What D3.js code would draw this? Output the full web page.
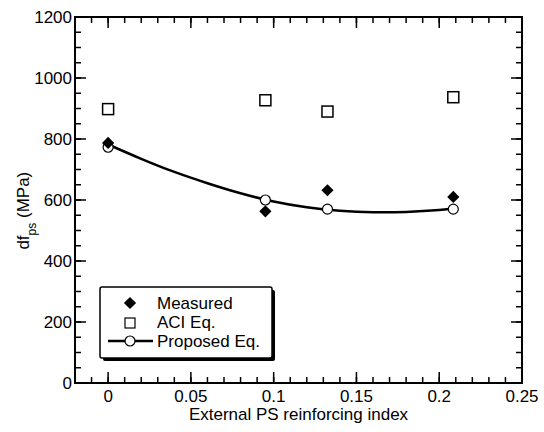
<!DOCTYPE html>
<html>
<head>
<meta charset="utf-8">
<script src="https://cdn.jsdelivr.net/npm/d3@7"></script>
<style>
  body { margin: 0; background: #fff; }
  text { font-family: "Liberation Sans", Arial, sans-serif; fill: #000; }
</style>
</head>
<body>
<div id="chart"></div>
<script>
// data
const xIndex = [0, 0.095, 0.1325, 0.2085];
const measured = [787, 563, 632, 610];
const aciEq = [898, 927, 890, 937];
const proposed = [773, 600, 570, 570];
// fitted curve, read at regular steps
const curveX = [0, 0.02, 0.04, 0.06, 0.08, 0.1, 0.12, 0.14, 0.16, 0.18, 0.2, 0.2085];
const curveY = [782, 735, 692, 655, 622, 595, 576, 565, 560, 561, 567, 572];
const xTicks = [0, 0.05, 0.1, 0.15, 0.2, 0.25];
const yTicks = [0, 200, 400, 600, 800, 1000, 1200];

const margin = {top: 17, right: 22, bottom: 49, left: 75},
    width = 544 - margin.left - margin.right,
    height = 432 - margin.top - margin.bottom;

const svg = d3.select("#chart")
    .append("svg")
    .attr("width", 544)
    .attr("height", 432)
    .append("g")
    .attr("transform", `translate(${margin.left}, ${margin.top})`);

const x = d3.scaleLinear().domain([-0.02, 0.25]).range([0, width]);
const y = d3.scaleLinear().domain([0, 1200]).range([height, 0]);

// minor ticks
const xMinor = d3.range(-0.01, 0.2501, 0.01).map(d => +d.toFixed(3));
const yMinor = d3.range(0, 1201, 50);

function tickLines(sel, vals, scale, len, orient) {
    sel.selectAll("line").data(vals).join("line")
        .attr("stroke", "#000").attr("stroke-width", 1.5)
        .each(function(d) {
            const l = d3.select(this);
            const p = scale(d);
            if (orient == "bottom") l.attr("x1", p).attr("x2", p).attr("y1", height).attr("y2", height - len);
            if (orient == "top") l.attr("x1", p).attr("x2", p).attr("y1", 0).attr("y2", len);
            if (orient == "left") l.attr("y1", p).attr("y2", p).attr("x1", 0).attr("x2", len);
            if (orient == "right") l.attr("y1", p).attr("y2", p).attr("x1", width).attr("x2", width - len);
        });
}

const axes = svg.append("g");
tickLines(axes.append("g"), xMinor, x, 6, "bottom");
tickLines(axes.append("g"), xTicks, x, 11, "bottom");
tickLines(axes.append("g"), xMinor, x, 6, "top");
tickLines(axes.append("g"), xTicks, x, 11, "top");
tickLines(axes.append("g"), yMinor, y, 6, "left");
tickLines(axes.append("g"), yTicks, y, 11, "left");
tickLines(axes.append("g"), yMinor, y, 6, "right");
tickLines(axes.append("g"), yTicks, y, 11, "right");

svg.append("rect")
    .attr("width", width).attr("height", height)
    .attr("fill", "none").attr("stroke", "#000").attr("stroke-width", 2);

// tick labels
svg.selectAll(".xlab").data(xTicks).join("text")
    .attr("x", d => x(d)).attr("y", height + 19)
    .attr("text-anchor", "middle").style("font-size", "17px")
    .text(d => d);
svg.selectAll(".ylab").data(yTicks).join("text")
    .attr("x", -3).attr("y", d => y(d) + 6)
    .attr("text-anchor", "end").style("font-size", "17px")
    .text(d => d);

// axis titles
svg.append("text")
    .attr("x", x(0.115)).attr("y", height + 37)
    .attr("text-anchor", "middle").style("font-size", "17px")
    .text("External PS reinforcing index");

const yt = svg.append("text")
    .attr("transform", `translate(${-46}, ${y(565)}) rotate(-90)`)
    .attr("text-anchor", "middle").style("font-size", "17px");
yt.append("tspan").text("df");
yt.append("tspan").attr("dy", 7).style("font-size", "12px").text("ps");
yt.append("tspan").attr("dy", -7).text(" (MPa)");

// fitted curve
const line = d3.line()
    .x(d => x(d[0])).y(d => y(d[1]))
    .curve(d3.curveNatural);
svg.append("path")
    .datum(d3.zip(curveX, curveY))
    .attr("d", line)
    .attr("fill", "none").attr("stroke", "#000").attr("stroke-width", 2.5);

const diamond = d3.symbol().type(d3.symbolDiamond2).size(95);

// proposed circles
svg.selectAll(".prop").data(d3.zip(xIndex, proposed)).join("circle")
    .attr("cx", d => x(d[0])).attr("cy", d => y(d[1])).attr("r", 5)
    .attr("fill", "#fff").attr("stroke", "#000").attr("stroke-width", 1.2);

// ACI squares
svg.selectAll(".aci").data(d3.zip(xIndex, aciEq)).join("rect")
    .attr("x", d => x(d[0]) - 5.5).attr("y", d => y(d[1]) - 5.5)
    .attr("width", 11).attr("height", 11)
    .attr("fill", "#fff").attr("stroke", "#000").attr("stroke-width", 1.5);

// measured diamonds
svg.selectAll(".meas").data(d3.zip(xIndex, measured)).join("path")
    .attr("transform", d => `translate(${x(d[0])}, ${y(d[1])})`)
    .attr("d", diamond)
    .attr("fill", "#000");

// legend
const lg = svg.append("g").attr("transform", `translate(${100 - margin.left}, ${287 - margin.top})`);
const lw = 172, lh = 71;
lg.append("rect").attr("x", 3).attr("y", 3).attr("width", lw).attr("height", lh).attr("fill", "#000").attr("rx", 2);
lg.append("rect").attr("width", lw).attr("height", lh).attr("fill", "#fff")
    .attr("stroke", "#000").attr("stroke-width", 1.5).attr("rx", 2);

const legendNames = ["Measured", "ACI Eq.", "Proposed Eq."];
lg.selectAll(".lt").data(legendNames).join("text")
    .attr("x", 57).attr("y", (d, i) => 22 + i * 19)
    .style("font-size", "17px").text(d => d);

lg.append("path").attr("transform", "translate(30, 16)").attr("d", diamond).attr("fill", "#000");
lg.append("rect").attr("x", 25).attr("y", 31).attr("width", 10).attr("height", 10)
    .attr("fill", "#fff").attr("stroke", "#000").attr("stroke-width", 1.2);
lg.append("line").attr("x1", 8).attr("x2", 53).attr("y1", 54).attr("y2", 54)
    .attr("stroke", "#000").attr("stroke-width", 2.5);
lg.append("circle").attr("cx", 30).attr("cy", 54).attr("r", 5)
    .attr("fill", "#fff").attr("stroke", "#000").attr("stroke-width", 1.2);
</script>
</body>
</html>
